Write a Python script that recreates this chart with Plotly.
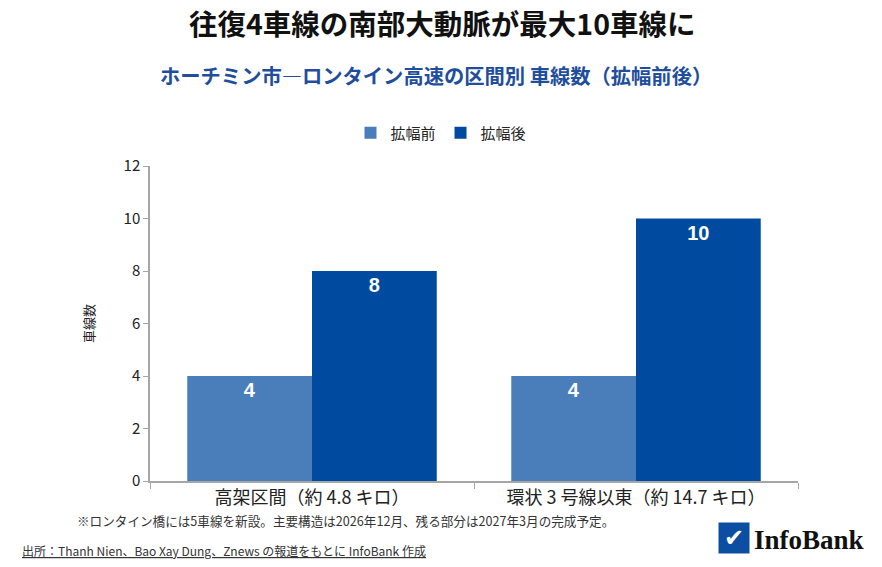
import plotly.graph_objects as go

categories = ["高架区間（約 4.8 キロ）", "環状 3 号線以東（約 14.7 キロ）"]
before = [4, 4]
after = [8, 10]
series_names = ["拡幅前", "拡幅後"]
y_ticks = [0, 2, 4, 6, 8, 10, 12]

FONT = "Noto Sans CJK JP, Noto Sans, sans-serif"
C_BEFORE = "#4a7ebb"
C_AFTER = "#004ba0"

L, R, T, B = 150, 798, 166, 481
W, H = 882, 567
PW = R - L

def px_x(x):
    return (x - L) / PW

fig = go.Figure()
for name, vals, col in [(series_names[0], before, C_BEFORE), (series_names[1], after, C_AFTER)]:
    fig.add_trace(go.Bar(
        x=categories, y=vals, name=name, marker=dict(color=col, line=dict(width=0)),
        text=[str(v) for v in vals], textposition="inside", insidetextanchor="end",
        textangle=0,
        textfont=dict(color="white", size=20, family="Liberation Sans, Arial, sans-serif", weight="bold"),
        cliponaxis=False,
    ))

fig.update_layout(
    width=W, height=H,
    margin=dict(l=L, r=W - R, t=T, b=H - B, pad=0),
    paper_bgcolor="white", plot_bgcolor="white",
    barmode="group", bargap=0.23, bargroupgap=0,
    font=dict(family=FONT, color="#222222", size=13),
    showlegend=True,
    legend=dict(orientation="h", x=px_x(441), xanchor="center", y=1.105, yanchor="middle",
                font=dict(size=15, color="#222222"), itemwidth=30, traceorder="normal"),
)
fig.update_xaxes(
    showline=True, linecolor="#a6a6a6", linewidth=1.5, ticks="outside", tickson="boundaries",
    ticklen=6, tickcolor="#a6a6a6", tickfont=dict(size=18, color="#222222"), showgrid=False,
)
fig.update_yaxes(
    range=[0, 12], tickvals=y_ticks, showline=True, linecolor="#a6a6a6", linewidth=1.5,
    ticks="outside", ticklen=5, tickcolor="#a6a6a6", showgrid=False, zeroline=False,
    tickfont=dict(size=15, color="#222222"),
    title=dict(text="車線数", font=dict(size=13, color="#222222"), standoff=26),
)

fig.add_annotation(text="<b>往復4車線の南部大動脈が最大10車線に</b>", xref="paper", yref="paper",
                   x=px_x(442), y=1, yshift=T - 22, xanchor="center", yanchor="middle", showarrow=False,
                   font=dict(size=28.5, color="#111111", family=FONT))
fig.add_annotation(text="<b>ホーチミン市―ロンタイン高速の区間別 車線数（拡幅前後）</b>", xref="paper", yref="paper",
                   x=px_x(436), y=1, yshift=T - 75, xanchor="center", yanchor="middle", showarrow=False,
                   font=dict(size=20.3, color="#1f4e9c", family=FONT))
fig.add_annotation(text="※ロンタイン橋には5車線を新設。主要構造は2026年12月、残る部分は2027年3月の完成予定。",
                   xref="paper", yref="paper", x=px_x(75), y=0, yshift=-(520 - B),
                   xanchor="left", yanchor="middle", showarrow=False,
                   font=dict(size=12.6, color="#333333", family=FONT))
fig.add_annotation(text="<u>出所：Thanh Nien、Bao Xay Dung、Znews の報道をもとに InfoBank 作成</u>",
                   xref="paper", yref="paper", x=px_x(20), y=0, yshift=-(550 - B),
                   xanchor="left", yanchor="middle", showarrow=False,
                   font=dict(size=12, color="#333333", family=FONT))
# logo
fig.add_annotation(text="✔", xref="paper", yref="paper", x=px_x(734), y=0, yshift=-(538 - B),
                   xanchor="center", yanchor="middle", showarrow=False, width=28, height=28,
                   bgcolor="#0b4ea2", font=dict(size=24, color="white", family="DejaVu Sans"))
fig.add_annotation(text="<b>InfoBank</b>", xref="paper", yref="paper", x=px_x(752), y=0,
                   yshift=-(540 - B), xanchor="left", yanchor="middle", showarrow=False,
                   font=dict(size=27, color="#111111", family="Liberation Serif, Times New Roman, serif"))

fig.write_html("out.html", config={"displayModeBar": False},
               post_script="document.body.style.margin='0';")
